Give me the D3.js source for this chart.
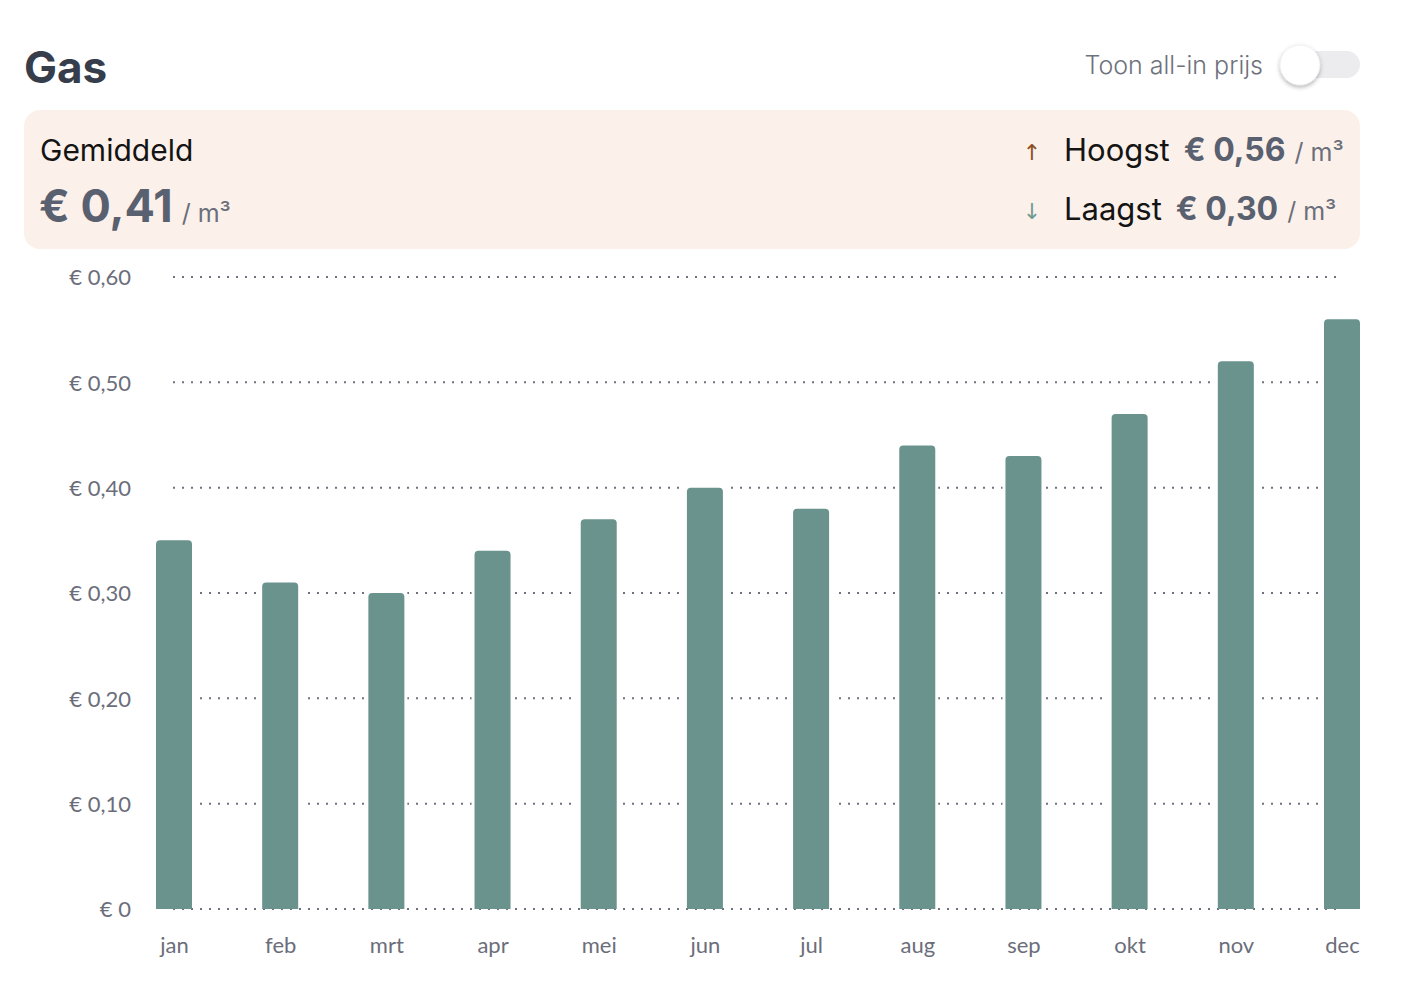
<!DOCTYPE html>
<html><head><meta charset="utf-8">
<script src="https://cdn.jsdelivr.net/npm/d3@7"></script>
<style>
html,body{margin:0;padding:0;background:#fff;}
svg{display:block;}
</style></head>
<body>
<svg id="chart" width="1416" height="1000"></svg>
<script>
const months = ["jan","feb","mrt","apr","mei","jun","jul","aug","sep","okt","nov","dec"];
const prices = [0.35,0.31,0.30,0.34,0.37,0.40,0.38,0.44,0.43,0.47,0.52,0.56];
const yTicks = [0,0.1,0.2,0.3,0.4,0.5,0.6];
const title = "Gas";
const toggleLabel = "Toon all-in prijs";
const avgLabel = "Gemiddeld", highLabel = "Hoogst", lowLabel = "Laagst";
const unit = "/ m³";

const fmt = v => v === 0 ? "€ 0" : "€ " + v.toFixed(2).replace(".", ",");
const avg = d3.mean(prices), hi = d3.max(prices), lo = d3.min(prices);

const svg = d3.select("#chart");
const font = "Inter, 'Noto Sans', sans-serif";
const axisFont = "Lato, 'Noto Sans', sans-serif";

// Title
svg.append("text").attr("x", 24).attr("y", 83).text(title)
  .attr("font-family", font).attr("font-weight", 700).attr("font-size", 44).attr("fill", "#363d4b");

// Toggle
svg.append("text").attr("x", 1263).attr("y", 74).attr("text-anchor", "end").text(toggleLabel)
  .attr("font-family", font).attr("font-weight", 300).attr("font-size", 25).attr("fill", "#6e717c");
svg.append("rect").attr("x", 1282).attr("y", 51).attr("width", 78).attr("height", 27).attr("rx", 13.5)
  .attr("fill", "#ececef");
const defs = svg.append("defs");
const f = defs.append("filter").attr("id", "sh").attr("x", "-50%").attr("y", "-50%").attr("width", "200%").attr("height", "200%");
f.append("feDropShadow").attr("dx", 0).attr("dy", 2).attr("stdDeviation", 2).attr("flood-color", "#000").attr("flood-opacity", 0.3);
svg.append("circle").attr("cx", 1300).attr("cy", 65).attr("r", 20).attr("fill", "#fff").attr("filter", "url(#sh)")
  .attr("stroke", "#e4e4e8").attr("stroke-width", 0.5);

// Summary box
svg.append("rect").attr("x", 24).attr("y", 110).attr("width", 1336).attr("height", 139).attr("rx", 16)
  .attr("fill", "#fcf1ea");
svg.append("text").attr("x", 40).attr("y", 161).text(avgLabel)
  .attr("font-family", font).attr("font-size", 30).attr("fill", "#141414");
const avgT = svg.append("text").attr("x", 39).attr("y", 222).attr("font-family", font);
avgT.append("tspan").text(fmt(avg)).attr("font-weight", 700).attr("font-size", 45).attr("fill", "#596070");
avgT.append("tspan").text(" " + unit).attr("font-size", 25).attr("fill", "#6b6f7b").attr("dx", 2);

function statRow(y, arrow, arrowColor, label, val) {
  svg.append("text").attr("x", 1032).attr("y", y - 1).attr("text-anchor", "middle").text(arrow)
    .attr("font-family", "'DejaVu Sans', sans-serif").attr("font-size", 22).attr("fill", arrowColor);
  const t = svg.append("text").attr("x", 1064).attr("y", y).attr("font-family", font);
  t.append("tspan").text(label).attr("font-size", 31).attr("fill", "#141414");
  t.append("tspan").text(fmt(val)).attr("dx", 14).attr("font-weight", 700).attr("font-size", 32).attr("fill", "#596070");
  t.append("tspan").text(unit).attr("dx", 9).attr("font-size", 25).attr("fill", "#6b6f7b");
}
statRow(161, "↑", "#8c4f22", highLabel, hi);
statRow(220, "↓", "#6f9c92", lowLabel, lo);

// Chart
const x = d3.scalePoint().domain(months).range([174, 1342]);
const y = d3.scaleLinear().domain([0, 0.6]).range([909, 277]);
const barW = 36;

const g = svg.append("g");
// gridlines
g.selectAll("line.grid").data(yTicks).join("line").attr("class", "grid")
  .attr("x1", 173).attr("x2", 1338)
  .attr("y1", d => y(d)).attr("y2", d => y(d))
  .attr("stroke", "#6e7280").attr("stroke-width", 2).attr("stroke-dasharray", "2,7");

// y labels
const yAxis = d3.axisLeft(y).tickValues(yTicks).tickFormat(fmt).tickSize(0).tickPadding(0);
const ya = svg.append("g").attr("transform", "translate(131,0)").call(yAxis);
ya.select(".domain").remove();
ya.selectAll("text").attr("font-family", axisFont).attr("font-size", 22).attr("fill", "#6b6e7a").attr("dy", "0.35em");

// bar halos
g.selectAll("rect.halo").data(prices).join("rect").attr("class", "halo")
  .attr("x", (d, i) => x(months[i]) - barW / 2 - 3)
  .attr("y", d => y(d) - 3)
  .attr("width", barW + 6)
  .attr("height", d => y(0) - y(d) + 2)
  .attr("fill", "#fff");

// bars with rounded top
const r = 4;
g.selectAll("path.bar").data(prices).join("path").attr("class", "bar")
  .attr("d", (d, i) => {
    const x0 = x(months[i]) - barW / 2, x1 = x0 + barW, yt = y(d), yb = y(0);
    return `M${x0},${yb}V${yt + r}Q${x0},${yt} ${x0 + r},${yt}H${x1 - r}Q${x1},${yt} ${x1},${yt + r}V${yb}Z`;
  })
  .attr("fill", "#6a938d");

// x labels
const xAxis = d3.axisBottom(x).tickSize(0).tickPadding(0);
const xa = svg.append("g").attr("transform", "translate(0,945)").call(xAxis);
xa.select(".domain").remove();
xa.selectAll("text").attr("font-family", axisFont).attr("font-size", 22).attr("fill", "#6b6e7a").attr("dy", "0.35em");
</script>
</body></html>
